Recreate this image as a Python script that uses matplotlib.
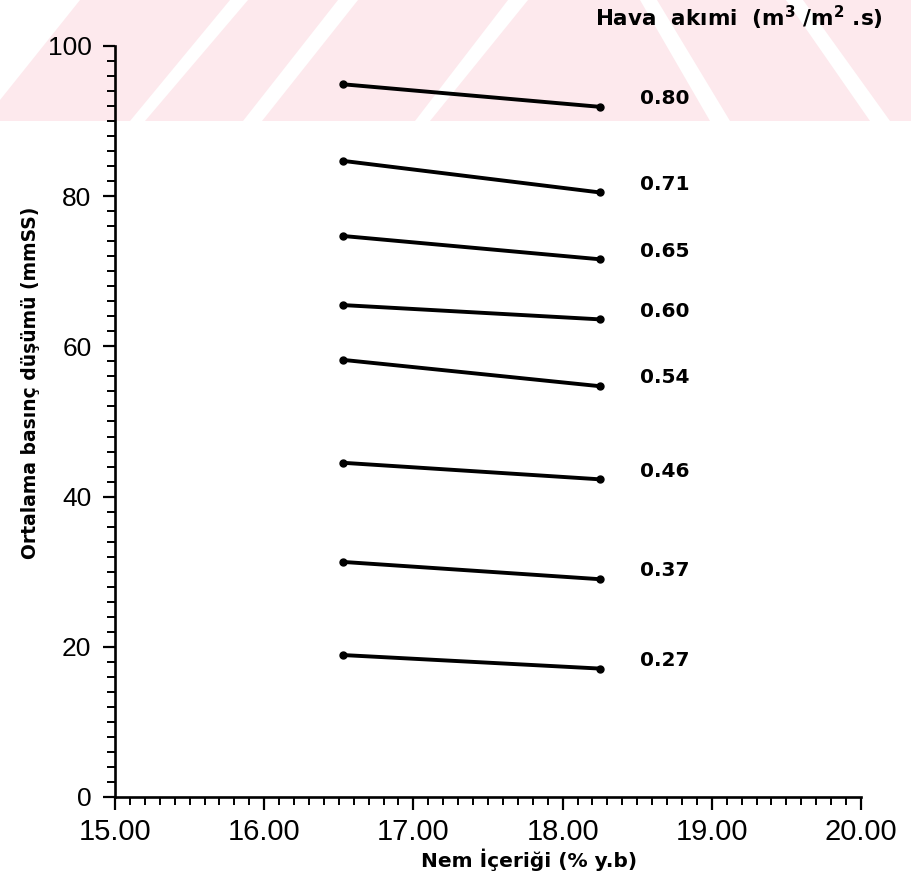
import matplotlib
matplotlib.use("Agg")
import matplotlib.pyplot as plt
from matplotlib.patches import Polygon
from matplotlib.ticker import MultipleLocator, FormatStrFormatter

# moisture content (% d.b.) at the two measured points
nem = [16.53, 18.25]

# airflow rates (m3/m2.s) and mean pressure drop (mmSS) at each moisture level
hava_akimi = ["0.80", "0.71", "0.65", "0.60", "0.54", "0.46", "0.37", "0.27"]
basinc_dusumu = [
    [94.9, 91.9],
    [84.7, 80.5],
    [74.7, 71.6],
    [65.5, 63.6],
    [58.2, 54.7],
    [44.5, 42.3],
    [31.3, 29.0],
    [18.9, 17.1],
]

W, H = 911, 873
fig = plt.figure(figsize=(W / 100, H / 100), dpi=100)


def px(x, y):
    return (x / W, 1 - y / H)


# faded red band across the top of the page
pink = "#fde9ed"
band = [(0, 0), (W, 0), (W, 121), (0, 121)]
fig.add_artist(Polygon([px(*p) for p in band], closed=True, transform=fig.transFigure,
                       facecolor=pink, edgecolor="none", zorder=0))
gaps = [
    [(0, 0), (80, 0), (0, 100)],
    [(130, 121), (145, 121), (248, 0), (230, 0)],
    [(243, 121), (262, 121), (358, 0), (338, 0)],
    [(415, 121), (430, 121), (528, 0), (508, 0)],
    [(640, 0), (657, 0), (730, 121), (710, 121)],
    [(786, 0), (803, 0), (890, 121), (870, 121)],
]
for g in gaps:
    fig.add_artist(Polygon([px(*p) for p in g], closed=True, transform=fig.transFigure,
                           facecolor="white", edgecolor="none", zorder=0))

ax = fig.add_axes([115 / W, 76 / H, 746 / W, 751 / H])
ax.patch.set_alpha(0)

for etiket, y in zip(hava_akimi, basinc_dusumu):
    ax.plot(nem, y, color="black", lw=2.8, marker="o", ms=5, clip_on=False)
    ax.text(18.52, y[-1] + 1.1, etiket, fontsize=14.5, family="DejaVu Sans",
            weight="bold", va="center", ha="left")

ax.set_xlim(15, 20)
ax.set_ylim(0, 100)
for s in ["top", "right"]:
    ax.spines[s].set_visible(False)
for s in ["left", "bottom"]:
    ax.spines[s].set_linewidth(1.9)

ax.xaxis.set_major_locator(MultipleLocator(1))
ax.xaxis.set_minor_locator(MultipleLocator(0.1))
ax.yaxis.set_major_locator(MultipleLocator(20))
ax.yaxis.set_minor_locator(MultipleLocator(2))
ax.xaxis.set_major_formatter(FormatStrFormatter("%.2f"))
ax.tick_params(which="major", length=9, width=1.6, direction="out")
ax.tick_params(which="minor", length=6, width=1.4, direction="out")
ax.tick_params(axis="x", pad=6)
ax.tick_params(axis="y", pad=8)
for lab in ax.get_xticklabels():
    lab.set_fontfamily("Liberation Sans")
    lab.set_fontsize(21)
for lab in ax.get_yticklabels():
    lab.set_fontfamily("Liberation Sans")
    lab.set_fontsize(19)

ax.set_xlabel("Nem İçeriği (% y.b)", fontsize=14.5, family="DejaVu Sans", weight="bold")
ax.xaxis.set_label_coords(0.555, -0.068)
ax.set_ylabel("Ortalama basınç düşümü (mmSS)", fontsize=13.5, family="DejaVu Sans",
              weight="bold")
ax.yaxis.set_label_coords(-0.10, 0.551)

ax.text(0.643, 1.037, r"Hava  akımi  ($\mathbf{m^3}$ /$\mathbf{m^2}$ .s)",
        transform=ax.transAxes, fontsize=15.5, family="DejaVu Sans", weight="bold",
        ha="left", va="center")

fig.savefig("out.png", dpi=100)
